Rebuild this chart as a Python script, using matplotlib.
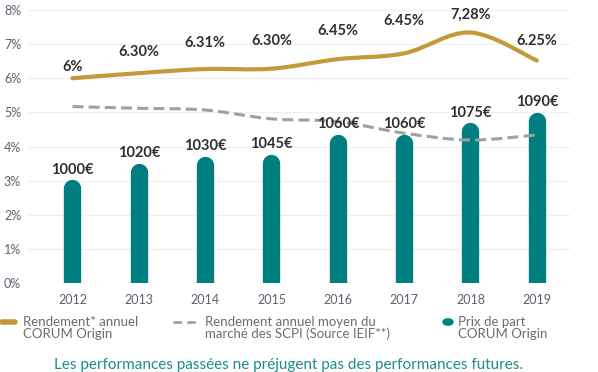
import matplotlib
matplotlib.use("Agg")
import matplotlib.pyplot as plt
from matplotlib.path import Path
from matplotlib.patches import PathPatch, Circle
from matplotlib.lines import Line2D

# données
years = ["2012", "2013", "2014", "2015", "2016", "2017", "2018", "2019"]
rendement = [6.0, 6.15, 6.27, 6.28, 6.56, 6.73, 7.34, 6.52]
rendement_labels = ["6%", "6.30%", "6.31%", "6.30%", "6.45%", "6.45%", "7,28%", "6.25%"]
marche_scpi = [5.17, 5.12, 5.07, 4.81, 4.73, 4.39, 4.19, 4.34]
prix_hauteur = [3.02, 3.49, 3.70, 3.78, 4.34, 4.34, 4.69, 5.01]
prix_labels = ["1000€", "1020€", "1030€", "1045€", "1060€", "1060€", "1075€", "1090€"]

GOLD = "#c4993a"
TEAL = "#007f80"
GREY = "#a0a0a0"
TXT = "#2f2f2f"
TICK = "#5b6270"

plt.rcParams["font.family"] = ["Lato", "DejaVu Sans"]

W, H = 598, 372
fig = plt.figure(figsize=(W / 100, H / 100), dpi=100)
ax = fig.add_axes([28 / W, 1 - 283 / H, 542 / W, 273 / H])


def px(x, y):
    return x / W, 1 - y / H


def smooth_path(xs, ys):
    # catmull-rom -> bezier
    verts = [(xs[0], ys[0])]
    codes = [Path.MOVETO]
    n = len(xs)
    for i in range(n - 1):
        x0, y0 = (xs[i - 1], ys[i - 1]) if i > 0 else (xs[i], ys[i])
        x1, y1 = xs[i], ys[i]
        x2, y2 = xs[i + 1], ys[i + 1]
        x3, y3 = (xs[i + 2], ys[i + 2]) if i + 2 < n else (x2, y2)
        c1 = (x1 + (x2 - x0) / 6, y1 + (y2 - y0) / 6)
        c2 = (x2 - (x3 - x1) / 6, y2 - (y3 - y1) / 6)
        verts += [c1, c2, (x2, y2)]
        codes += [Path.CURVE4] * 3
    return Path(verts, codes)


xs = list(range(len(years)))

# barres arrondies (prix de part)
cap = 8.5 / (273 / 8)  # demi-largeur en unités de données
ax.vlines(xs, [-1] * len(xs), [h - cap for h in prix_hauteur], colors=TEAL,
          linewidth=12.5, capstyle="round", zorder=2)
for x, h, lab in zip(xs, prix_hauteur, prix_labels):
    ax.annotate(lab, (x, h), xytext=(0, 7.5), textcoords="offset points",
                ha="center", va="center", fontsize=10.5, fontweight="bold",
                color=TXT, zorder=5)

# marché SCPI
ax.add_patch(PathPatch(smooth_path(xs, marche_scpi), fill=False, edgecolor=GREY,
                       linewidth=2.2, linestyle=(0, (3.6, 1.7)), zorder=3))

# rendement CORUM
ax.add_patch(PathPatch(smooth_path(xs, rendement), fill=False, edgecolor=GOLD,
                       linewidth=3, capstyle="round", zorder=4))
label_dy = [8, 15, 19, 20, 20, 23, 13, 14]
for x, v, lab, dy in zip(xs, rendement, rendement_labels, label_dy):
    ax.annotate(lab, (x, v), xytext=(0, dy), textcoords="offset points",
                ha="center", va="center", fontsize=10.5, fontweight="bold",
                color=TXT, zorder=5)

ax.set_xlim(-0.67, 7.5)
ax.set_ylim(0, 8)
ax.set_yticks(range(9))
ax.set_yticklabels([f"{i}%" for i in range(9)])
ax.set_xticks(xs)
ax.set_xticklabels(years)
ax.tick_params(length=0, labelsize=9, labelcolor=TICK)
ax.tick_params(axis="y", pad=5)
ax.tick_params(axis="x", pad=8)
ax.grid(axis="y", color="#eef0f4", linewidth=1)
ax.set_axisbelow(True)
for s in ax.spines.values():
    s.set_visible(False)

# légende
leg_col = "#6d6d6d"
fig.add_artist(Line2D([px(2, 0)[0], px(15, 0)[0]], [px(0, 322)[1]] * 2, color=GOLD,
                      linewidth=4, solid_capstyle="round"))
fig.text(*px(23, 328), "Rendement* annuel\nCORUM Origin", fontsize=9.5, color=leg_col,
         va="center", ha="left", linespacing=1.0)
fig.add_artist(Line2D([px(173, 0)[0], px(197, 0)[0]], [px(0, 322)[1]] * 2, color=GREY,
                      linewidth=2, linestyle=(0, (3, 2))))
fig.text(*px(205, 328), "Rendement annuel moyen du\nmarché des SCPI (Source IEIF**)",
         fontsize=9.5, color=leg_col, va="center", ha="left", linespacing=1.0)
fig.add_artist(Circle(px(448, 322), 5 / W, color=TEAL,
                      transform=fig.transFigure))
fig.text(*px(458, 328), "Prix de part\nCORUM Origin", fontsize=9.5, color=leg_col,
         va="center", ha="left", linespacing=1.0)

fig.text(*px(288, 365), "Les performances passées ne préjugent pas des performances futures.",
         fontsize=11, color="#1b8c8c", ha="center", va="center")

fig.savefig("out.png", dpi=100)
